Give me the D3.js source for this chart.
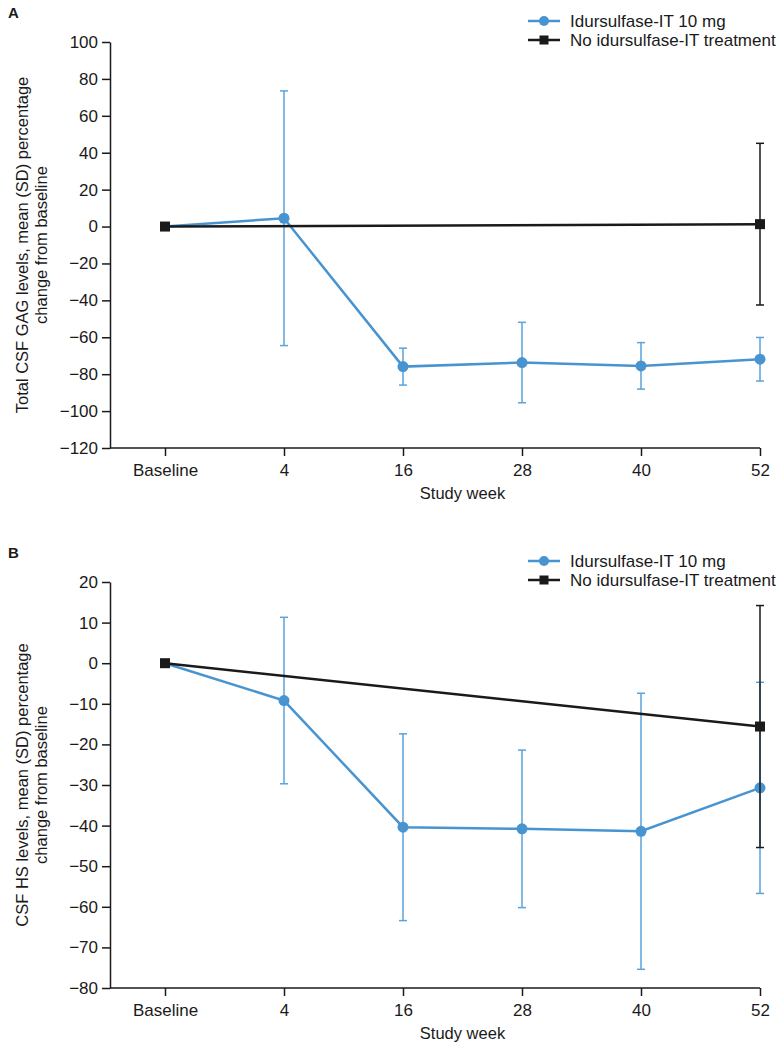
<!DOCTYPE html>
<html>
<head>
<meta charset="utf-8">
<script src="https://cdn.jsdelivr.net/npm/d3@7"></script>
<style>
  body { margin: 0; background: #fff; }
  svg { font-family: "Liberation Sans", Arial, Helvetica, sans-serif; }
  .axis text { font-size: 17px; fill: #1a1a1a; }
  .axis path, .axis line { stroke: #1a1a1a; stroke-width: 1.5; }
</style>
</head>
<body>
<svg id="chart"></svg>
<script>
// study visits (x categories)
const weeks = ['Baseline', '4', '16', '28', '40', '52'];
const seriesNames = ['Idursulfase-IT 10 mg', 'No idursulfase-IT treatment'];

// Panel A - total CSF GAG, mean and SD
const gagTreatedMean = [0, 4.5, -75.9, -73.7, -75.5, -71.9];
const gagTreatedSd   = [null, 69, 10, 21.8, 12.6, 11.8];
const gagUntreatedMean = [0, null, null, null, null, 1.3];
const gagUntreatedSd   = [null, null, null, null, null, 43.8];
const gagTicks = [-120, -100, -80, -60, -40, -20, 0, 20, 40, 60, 80, 100];

// Panel B - CSF HS, mean and SD
const hsTreatedMean = [0, -9.2, -40.4, -40.8, -41.4, -30.7];
const hsTreatedSd   = [null, 20.5, 23, 19.4, 34, 26];
const hsUntreatedMean = [0, null, null, null, null, -15.6];
const hsUntreatedSd   = [null, null, null, null, null, 29.8];
const hsTicks = [-80, -70, -60, -50, -40, -30, -20, -10, 0, 10, 20];

const BLUE = '#4794d1';
const BLUE_ERR = '#5aa3dc';
const BLACK = '#1a1a1a';

class PercentChangeChart {

  constructor(_config, _data) {
    this.config = {
      svg: _config.svg,
      offsetY: _config.offsetY || 0,
      letter: _config.letter,
      yLabel: _config.yLabel,
      yTicks: _config.yTicks,
      top: 42,
      bottom: 448,
      left: 110,
      right: 760,
      firstPoint: 165
    };
    this.data = _data;
    this.initVis();
  }

  initVis() {
    let vis = this;
    const c = vis.config;

    vis.g = c.svg.append('g')
      .attr('transform', `translate(0,${c.offsetY})`);

    vis.xScale = d3.scalePoint()
      .domain(weeks)
      .range([c.firstPoint, c.right]);

    vis.yScale = d3.scaleLinear()
      .domain(d3.extent(c.yTicks))
      .range([c.bottom, c.top]);

    // panel letter
    vis.g.append('text')
      .attr('x', 8)
      .attr('y', 18)
      .attr('font-size', '15px')
      .attr('font-weight', 'bold')
      .attr('fill', BLACK)
      .text(c.letter);

    // y axis
    vis.g.append('g')
      .attr('class', 'axis y-axis')
      .attr('transform', `translate(${c.left},0)`)
      .call(d3.axisLeft(vis.yScale).tickValues(c.yTicks).tickSize(8).tickSizeOuter(0).tickPadding(4));

    // x axis - the domain line starts at the y axis
    const xAxisG = vis.g.append('g')
      .attr('class', 'axis x-axis')
      .attr('transform', `translate(0,${c.bottom})`)
      .call(d3.axisBottom(vis.xScale).tickSize(8).tickSizeOuter(0).tickPadding(8));
    xAxisG.select('.domain').remove();
    xAxisG.append('line')
      .attr('x1', c.left).attr('x2', c.right)
      .attr('stroke', BLACK).attr('stroke-width', 1.5);

    vis.g.append('text')
      .attr('x', (c.firstPoint + c.right) / 2)
      .attr('y', c.bottom + 51)
      .attr('text-anchor', 'middle')
      .attr('font-size', '16.5px')
      .attr('fill', BLACK)
      .text('Study week');

    // y axis title, two lines
    const midY = (c.top + c.bottom) / 2;
    vis.g.append('g')
      .attr('transform', `translate(28,${midY}) rotate(-90)`)
      .selectAll('text')
      .data(c.yLabel)
      .join('text')
      .attr('y', (d, i) => i * 19)
      .attr('text-anchor', 'middle')
      .attr('font-size', '16.5px')
      .attr('fill', BLACK)
      .text(d => d);

    vis.renderLegend();
    vis.renderVis();
  }

  renderLegend() {
    let vis = this;
    const rows = vis.g.selectAll('.legend-row')
      .data([{name: seriesNames[0], color: BLUE, shape: 'circle'},
             {name: seriesNames[1], color: BLACK, shape: 'square'}])
      .join('g')
      .attr('class', 'legend-row')
      .attr('transform', (d, i) => `translate(528,${21 + i * 19})`);

    rows.append('line')
      .attr('x1', 0).attr('x2', 32)
      .attr('stroke', d => d.color)
      .attr('stroke-width', 2.5);
    rows.filter(d => d.shape === 'circle').append('circle')
      .attr('cx', 16).attr('r', 5).attr('fill', BLUE);
    rows.filter(d => d.shape === 'square').append('rect')
      .attr('x', 11.5).attr('y', -4.5).attr('width', 9).attr('height', 9).attr('fill', BLACK);
    rows.append('text')
      .attr('x', 42)
      .attr('dy', '0.35em')
      .attr('font-size', '17px')
      .attr('fill', BLACK)
      .text(d => d.name);
  }

  renderVis() {
    let vis = this;
    const toPoints = (means, sds) => weeks.map((w, i) => ({week: w, mean: means[i], sd: sds[i]}))
      .filter(d => d.mean !== null);

    const treated = toPoints(vis.data.treatedMean, vis.data.treatedSd);
    const untreated = toPoints(vis.data.untreatedMean, vis.data.untreatedSd);

    const line = d3.line()
      .x(d => vis.xScale(d.week))
      .y(d => vis.yScale(d.mean));

    const drawErrors = (pts, color) => {
      const eb = vis.g.append('g')
        .selectAll('g')
        .data(pts.filter(d => d.sd !== null))
        .join('g')
        .attr('stroke', color)
        .attr('stroke-width', 1.5);
      eb.append('line')
        .attr('x1', d => vis.xScale(d.week)).attr('x2', d => vis.xScale(d.week))
        .attr('y1', d => vis.yScale(d.mean + d.sd))
        .attr('y2', d => vis.yScale(d.mean - d.sd));
      [1, -1].forEach(s => {
        eb.append('line')
          .attr('x1', d => vis.xScale(d.week) - 4).attr('x2', d => vis.xScale(d.week) + 4)
          .attr('y1', d => vis.yScale(d.mean + s * d.sd))
          .attr('y2', d => vis.yScale(d.mean + s * d.sd));
      });
    };

    drawErrors(treated, BLUE_ERR);

    vis.g.append('path')
      .datum(treated)
      .attr('fill', 'none')
      .attr('stroke', BLUE)
      .attr('stroke-width', 2.5)
      .attr('d', line);

    vis.g.append('path')
      .datum(untreated)
      .attr('fill', 'none')
      .attr('stroke', BLACK)
      .attr('stroke-width', 2.5)
      .attr('d', line);

    vis.g.append('g')
      .selectAll('circle')
      .data(treated.filter(d => d.week !== 'Baseline'))
      .join('circle')
      .attr('cx', d => vis.xScale(d.week))
      .attr('cy', d => vis.yScale(d.mean))
      .attr('r', 5.5)
      .attr('fill', BLUE);

    drawErrors(untreated, BLACK);

    vis.g.append('g')
      .selectAll('rect')
      .data(untreated)
      .join('rect')
      .attr('x', d => vis.xScale(d.week) - 5)
      .attr('y', d => vis.yScale(d.mean) - 5)
      .attr('width', 10)
      .attr('height', 10)
      .attr('fill', BLACK);
  }
}

const svg = d3.select('#chart')
  .attr('width', 781)
  .attr('height', 1050);

new PercentChangeChart({
  svg: svg,
  offsetY: 0,
  letter: 'A',
  yTicks: gagTicks,
  yLabel: ['Total CSF GAG levels, mean (SD) percentage', 'change from baseline']
}, {
  treatedMean: gagTreatedMean, treatedSd: gagTreatedSd,
  untreatedMean: gagUntreatedMean, untreatedSd: gagUntreatedSd
});

new PercentChangeChart({
  svg: svg,
  offsetY: 540,
  letter: 'B',
  yTicks: hsTicks,
  yLabel: ['CSF HS levels, mean (SD) percentage', 'change from baseline']
}, {
  treatedMean: hsTreatedMean, treatedSd: hsTreatedSd,
  untreatedMean: hsUntreatedMean, untreatedSd: hsUntreatedSd
});
</script>
</body>
</html>
